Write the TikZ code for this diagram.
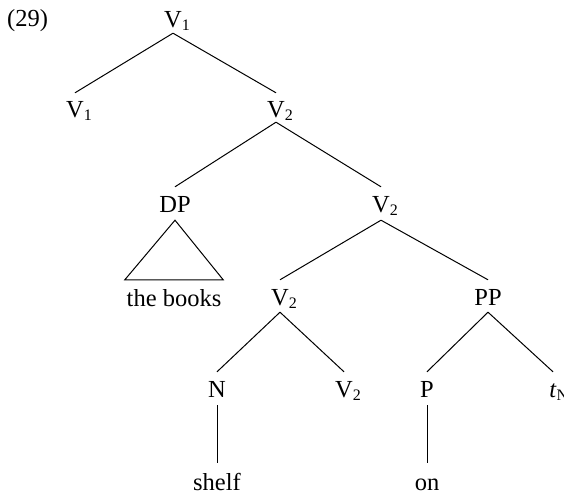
\documentclass[tikz,border=0pt]{standalone}
\usepackage{fontspec}
\setmainfont{Liberation Serif}
\newcommand\sbs[1]{\rlap{\raisebox{-3pt}{\fontsize{16}{16}\selectfont #1}}}
\begin{document}
\begin{tikzpicture}[x=1pt,y=-1pt,
  every node/.style={font=\fontsize{24.5}{28}\selectfont, inner sep=0pt, anchor=base},
  lab/.style={text height=25pt, text depth=#1},
  lab/.default=7pt,
  edge/.style={line width=1pt}]
\useasboundingbox (0,0) rectangle (564,494);
\node[anchor=base west] (ex) at (7,27) {(29)};
\node[lab=5pt] (v1a) at (173,28) {V\sbs{1}};
\node[lab=4pt] (v1b) at (75,118) {V\sbs{1}};
\node[lab=4pt] (v2a) at (276,118) {V\sbs{2}};
\node[lab=8pt] (dp) at (175,212) {DP};
\node[lab=8pt] (v2b) at (381,212) {V\sbs{2}};
\node[text height=26pt, minimum width=98pt] (books) at (174,306) {the books};
\node[lab=7pt] (v2c) at (280,305) {V\sbs{2}};
\node[lab=7pt] (pp) at (488,305) {PP};
\node[lab=8pt] (n) at (217,397) {N};
\node[lab=8pt] (v2d) at (344,397) {V\sbs{2}};
\node[lab=8pt] (p) at (427,397) {P};
\node[lab=8pt] (tn) at (553,397) {\textit{t}\sbs{N}};
\node[text height=27pt] (shelf) at (217,490) {shelf};
\node[text height=27pt] (on) at (427,490) {on};
\draw[edge] (v1a.south) -- (v1b.north);
\draw[edge] (v1a.south) -- (v2a.north);
\draw[edge] (v2a.south) -- (dp.north);
\draw[edge] (v2a.south) -- (v2b.north);
\draw[edge] (dp.south) -- (books.north east) -- (books.north west) -- cycle;
\draw[edge] (v2b.south) -- (v2c.north);
\draw[edge] (v2b.south) -- (pp.north);
\draw[edge] (v2c.south) -- (n.north);
\draw[edge] (v2c.south) -- (v2d.north);
\draw[edge] (pp.south) -- (p.north);
\draw[edge] (pp.south) -- (tn.north);
\draw[edge] (n.south) -- (shelf.north);
\draw[edge] (p.south) -- (on.north);
\end{tikzpicture}
\end{document}
